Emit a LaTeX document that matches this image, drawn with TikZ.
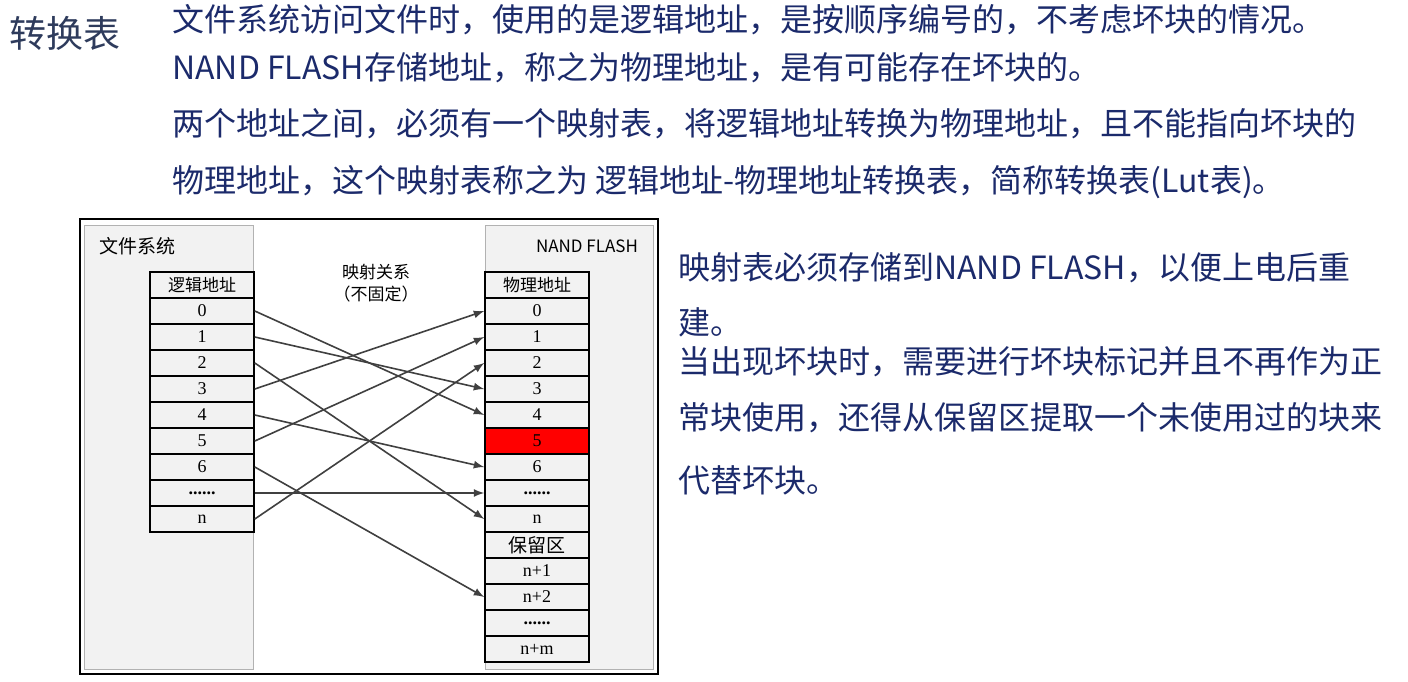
\documentclass[tikz,border=0pt]{standalone}
\usepackage{fontspec}
\setmainfont{Liberation Serif}
\newfontfamily\cjk{Noto Sans CJK SC}
\usetikzlibrary{positioning}
\definecolor{navy}{HTML}{1B2A6B}
\definecolor{titlegray}{HTML}{2E3B5C}
\definecolor{panelgray}{HTML}{F2F2F2}
\definecolor{arrowgray}{HTML}{404040}

\tikzset{
  txt/.style={anchor=west, inner sep=0pt, text=navy, font=\cjk\fontsize{16}{18}\selectfont},
  cell/.style={draw=black, thick, fill=panelgray, minimum width=52pt, minimum height=13pt,
    inner sep=0pt, font=\fontsize{9}{9}\selectfont},
  map/.style={draw=arrowgray, line width=0.8pt, -latex}
}

\begin{document}
\begin{tikzpicture}[x=0.5pt,y=-0.5pt]
	\useasboundingbox (0,0) rectangle (1408,681);
	% headings and notes
	\node[anchor=west, inner sep=0pt, text=titlegray, font=\cjk\fontsize{18.5}{20}\selectfont] (title) at (9,33) {转换表};
	\node[txt] (l1) at (172,20) {文件系统访问文件时，使用的是逻辑地址，是按顺序编号的，不考虑坏块的情况。};
	\node[txt] (l2) at (172,68) {NAND FLASH存储地址，称之为物理地址，是有可能存在坏块的。};
	\node[txt] (l3) at (172,124) {两个地址之间，必须有一个映射表，将逻辑地址转换为物理地址，且不能指向坏块的};
	\node[txt] (l4) at (172,182) {物理地址，这个映射表称之为 逻辑地址-物理地址转换表，简称转换表(Lut表)。};
	\node[txt] (r1) at (678,268) {映射表必须存储到NAND FLASH，以便上电后重};
	\node[txt] (r2) at (678,322) {建。};
	\node[txt] (r3) at (678,362) {当出现坏块时，需要进行坏块标记并且不再作为正};
	\node[txt] (r4) at (678,418) {常块使用，还得从保留区提取一个未使用过的块来};
	\node[txt] (r5) at (678,480) {代替坏块。};

	% frame and panels
	\draw[thick, fill=white] (80,219) rectangle (658,674);
	\draw[gray!60, fill=panelgray] (84,225) rectangle (253,669);
	\draw[gray!60, fill=panelgray] (485,225) rectangle (653,669);
	\node[anchor=west, font=\cjk\fontsize{9.5}{10}\selectfont] (fs) at (92,246) {文件系统};
	\node[anchor=east, font=\cjk\fontsize{8.5}{10}\selectfont] (nf) at (645,246) {NAND FLASH};
	\node[align=center, font=\cjk\fontsize{8.5}{11}\selectfont] (rel) at (376,283) {映射关系\\（不固定）};

	% logical table
	\node[cell, font=\cjk\fontsize{8.5}{9}\selectfont] (lh) at (202,285) {逻辑地址};
	\foreach \t [count=\i from 0] in {0,1,2,3,4,5,6,\textbf{......},n} {
		\node[cell] (a\i) at (202,311+26*\i) {\t};
	}
	% physical table
	\node[cell, font=\cjk\fontsize{8.5}{9}\selectfont] (ph) at (537,285) {物理地址};
	\foreach \t [count=\i from 0] in {0,1,2,3,4,5,6,\textbf{......},n} {
		\node[cell] (b\i) at (537,311+26*\i) {\t};
	}
	\node[cell, fill=red] at (b5) {5};
	\node[cell, font=\cjk\fontsize{9.5}{9}\selectfont] (res) at (537,545) {保留区};
	\node[cell] (c1) at (537,571) {n+1};
	\node[cell] (c2) at (537,597) {n+2};
	\node[cell] (c3) at (537,623) {\textbf{......}};
	\node[cell] (c4) at (537,649) {n+m};

	% mapping
	\foreach \s/\d in {0/b4,1/b3,2/b8,3/b0,4/b6,5/b1,6/c2,7/b7,8/b2} {
		\draw[map] (a\s.east) -- (\d.west);
	}
\end{tikzpicture}
\end{document}
